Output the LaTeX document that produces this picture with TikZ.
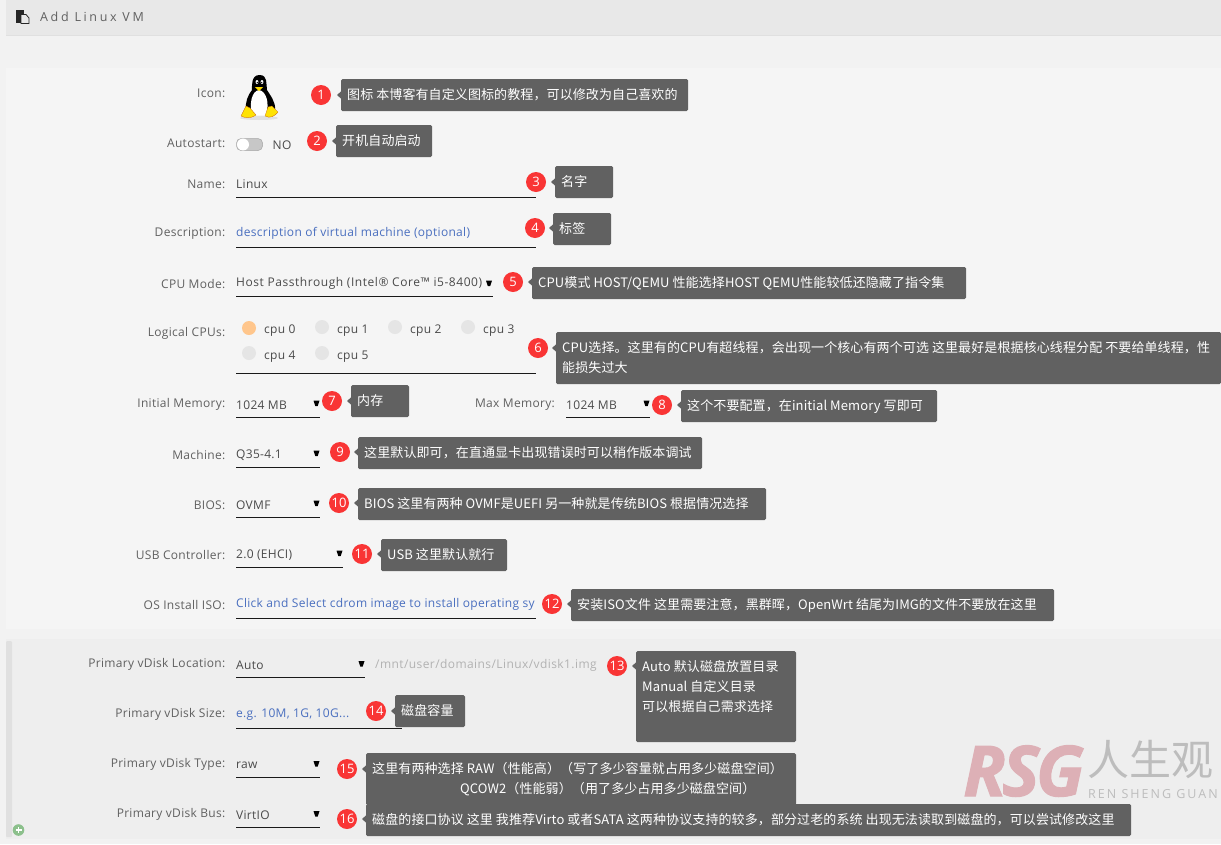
\documentclass[tikz,border=0pt]{standalone}
\usepackage{fontspec}
\setmainfont{Open Sans}
\newfontfamily\cjk{Noto Sans CJK SC}[LetterSpace=0.8]
\newfontfamily\uifont{Open Sans}[LetterSpace=2.5]
\usetikzlibrary{calc}
\definecolor{pagebg}{HTML}{F2F2F2}
\definecolor{headbg}{HTML}{E8E8E8}
\definecolor{panelA}{HTML}{F5F5F5}
\definecolor{panelB}{HTML}{EEEEEE}
\definecolor{barc}{HTML}{E0E0E0}
\definecolor{tipc}{HTML}{616161}
\definecolor{badgec}{HTML}{F93535}
\definecolor{labelc}{HTML}{606060}
\definecolor{valc}{HTML}{4A4A4A}
\definecolor{bluec}{HTML}{4A6FBF}
\definecolor{rsgc}{HTML}{DDB0B6}
\definecolor{wmc}{HTML}{BDBDBD}
\tikzset{
 x=1pt,y=-1pt,
 lab/.style={anchor=east,inner sep=0pt,yshift=-0.8pt,text=labelc,font=\uifont\fontsize{12}{14}\selectfont},
 val/.style={anchor=west,inner sep=0pt,yshift=-0.8pt,text=valc,font=\uifont\fontsize{12}{14}\selectfont},
 hint/.style={val,text=bluec},
 rule/.style={draw=black!90,line width=.9pt},
 badge/.style={circle,fill=badgec,text=white,inner sep=0pt,minimum size=20pt,font=\fontsize{13}{14}\selectfont},
 tiptext/.style={anchor=north west,inner sep=0pt,text=white,align=left,font=\cjk\fontsize{13}{20}\selectfont},
 tipbox/.style={fill=tipc,rounded corners=1.5pt},
 dot/.style={circle,fill=#1,inner sep=0pt,minimum size=14pt},
}
\newcommand{\arr}[2]{\fill[black] (#1-3,#2-2.5) -- (#1+3,#2-2.5) -- (#1+1.2,#2+3) -- (#1-1.2,#2+3) -- cycle;}
\newcommand{\fld}[3]{\draw[rule] (#1,#3) -- (#2,#3);}
\newcommand{\tipb}[9]{%
 \fill[tipc] (#5+.5,#4-4) -- (#5-4,#4) -- (#5+.5,#4+4) -- cycle;
 \fill[tipbox] (#5,#6) rectangle (#7,#8);
 \node[badge] (b#1) at (#3,#4) {#2};
 \node[tiptext] (t#1) at (#5+6,#6+9.5) {#9};
}
\begin{document}
\begin{tikzpicture}
\useasboundingbox (0,0) rectangle (1221,844);
\fill[pagebg] (0,0) rectangle (1221,844);
\fill[headbg] (6,0) rectangle (1221,36);
\draw[black!12] (6,35.5) -- (1221,35.5);
\fill[panelA] (6,68) rectangle (1221,629);
\fill[panelB] (6,639) rectangle (1221,839);
\fill[barc,rounded corners=1pt] (6,641) rectangle (12,837);
% header
\fill[black!85] (16,10) rectangle (24,23);
\draw[black!85,fill=headbg,line width=.8pt] (21,14.5) -- (26,14.5) -- (29,18) -- (29,23.5) -- (21,23.5) -- cycle;
\node[anchor=west,inner sep=0pt,text=labelc,font=\fontsize{12.5}{14}\selectfont] (title) at (40,17) {\addfontfeature{LetterSpace=21}Add Linux VM};
% labels
\node[lab] (l1) at (225.5,92.5) {Icon:};
\node[lab] (l2) at (225.5,142) {Autostart:};
\node[lab] (l3) at (225.5,183) {Name:};
\node[lab] (l4) at (225.5,233) {Description:};
\node[lab] (l5) at (225.5,283) {CPU Mode:};
\node[lab] (l6) at (225.5,333) {Logical CPUs:};
\node[lab] (l7) at (225.5,404) {Initial Memory:};
\node[lab] (l8) at (555,404) {Max Memory:};
\node[lab] (l9) at (225.5,454) {Machine:};
\node[lab] (l10) at (225.5,504) {BIOS:};
\node[lab] (l11) at (225.5,554) {USB Controller:};
\node[lab] (l12) at (225.5,604) {OS Install ISO:};
\node[lab] (l13) at (225.5,664) {Primary vDisk Location:};
\node[lab] (l14) at (225.5,714) {Primary vDisk Size:};
\node[lab] (l15) at (225.5,764) {Primary vDisk Type:};
\node[lab] (l16) at (225.5,814) {Primary vDisk Bus:};
% values
\node[val] (v3) at (236,183) {Linux};
\fld{236}{536}{197}
\node[hint] (v4) at (236,233) {description of virtual machine (optional)};
\fld{236}{536}{247}
\node[val] (v5) at (236,283) {\addfontfeature{LetterSpace=4.6}Host Passthrough (Intel® Core™ i5-8400)};
\arr{489}{283}
\fld{236}{493}{296.5}
\fld{236}{536}{373}
\node[dot=orange!45] (c0) at (249,328) {};
\node[val] (c0t) at (264,330) {cpu 0};
\node[dot=black!10] (c1) at (322,327) {};
\node[val] (c1t) at (337,330) {cpu 1};
\node[dot=black!10] (c2) at (395,327) {};
\node[val] (c2t) at (410,330) {cpu 2};
\node[dot=black!10] (c3) at (468,327) {};
\node[val] (c3t) at (483,330) {cpu 3};
\node[dot=black!10] (c4) at (249,353) {};
\node[val] (c4t) at (264,356) {cpu 4};
\node[dot=black!10] (c5) at (322,353) {};
\node[val] (c5t) at (337,356) {cpu 5};
\node[val] (v7) at (236,404) {1024 MB};
\arr{316.5}{403}
\fld{236}{320}{417}
\node[val] (v8) at (566,404) {1024 MB};
\arr{646.5}{403}
\fld{566}{650}{417}
\node[val] (v9) at (236,454) {Q35-4.1};
\arr{316.5}{453}
\fld{236}{320}{467}
\node[val] (v10) at (236,504) {OVMF};
\arr{316.5}{503}
\fld{236}{320}{517}
\node[val] (v11) at (236,554) {2.0 (EHCI)};
\arr{339.5}{553}
\fld{236}{343}{567}
\node[hint] (v12) at (236,604) {Click and Select cdrom image to install operating sy};
\fld{236}{536}{618.5}
\node[val] (v13) at (236,664) {Auto};
\arr{361.5}{663.5}
\fld{236}{365}{677.5}
\node[val,text=black!30] (v13b) at (375,664.5) {\addfontfeature{LetterSpace=3.5}/mnt/user/domains/Linux/vdisk1.img};
\node[hint] (v14) at (236,714) {e.g. 10M, 1G, 10G...};
\fld{236}{402}{728.5}
\node[val] (v15) at (236,764) {raw};
\arr{316.5}{763.5}
\fld{236}{320}{777}
\node[val] (v16) at (236,814) {VirtIO};
\arr{316.5}{813.5}
\fld{236}{320}{827.5}
% autostart toggle
\draw[black!35,fill=black!22,rounded corners=4.5pt,line width=.5pt] (236.5,138.5) rectangle (262.5,150.5);
\fill[white] (243,144.5) circle (6);
\node[val] (v2) at (272.5,144.5) {NO};
% plus icon
\fill[green!45!black!45] (18.5,830) circle (5.8);
\draw[white,line width=1.5pt] (15.5,830) -- (21.5,830) (18.5,827) -- (18.5,833);
% penguin
\fill[black!12] (259,118) ellipse (19 and 2);
\fill[black] (259.5,75) .. controls (251,75) and (252,86) .. (252,90) .. controls (248,95) and (245,102) .. (246,110) -- (275,110) .. controls (276,102) and (270,95) .. (267,90) .. controls (266,84) and (268,75) .. (259.5,75) -- cycle;
\fill[white] (259,90) .. controls (252,91) and (249,103) .. (252,115) -- (266,115) .. controls (270,103) and (266,91) .. (259,90) -- cycle;
\fill[white] (257,82) ellipse (1.4 and 2) (262,82) ellipse (1.4 and 2);
\fill[black] (257.3,82.5) circle (.7) (261.7,82.5) circle (.7);
\fill[yellow!80!orange] (255,87) -- (263,87) -- (259,91) -- cycle;
\fill[yellow!85!orange,draw=orange!80!black,line width=.3pt] (241,116) -- (246,106) -- (250,108) -- (256,115) .. controls (250,119) and (245,118) .. (241,116) -- cycle;
\fill[yellow!85!orange,draw=orange!80!black,line width=.3pt] (278,112) -- (272,106) -- (268,107) -- (265,116) .. controls (270,119) and (275,116) .. (278,112) -- cycle;
% watermark
\node[anchor=west,inner sep=0pt,text=rsgc,font=\bfseries\itshape\fontsize{70}{72}\selectfont] (rsg) at (963,771) {\addfontfeature{LetterSpace=-5,FakeBold=1.5}RSG};
\node[anchor=west,inner sep=0pt,text=wmc,font=\cjk\fontsize{42}{42}\selectfont] (rsg2) at (1087,760) {人生观};
\node[anchor=west,inner sep=0pt,text=wmc,font=\fontsize{12.5}{14}\selectfont] (rsg3) at (1088,794) {\addfontfeature{LetterSpace=16}REN SHENG GUAN};
% tips
\tipb{1}{1}{321}{95}{341}{79}{688}{111}{图标 本博客有自定义图标的教程，可以修改为自己喜欢的}
\tipb{2}{2}{317}{141}{336}{125}{432}{157}{开机自动启动}
\tipb{3}{3}{536}{182}{555}{166}{613}{198}{名字}
\tipb{4}{4}{535}{228}{553}{213}{611}{245}{标签}
\tipb{5}{5}{513}{282}{532}{267}{966}{299}{CPU模式 HOST/QEMU 性能选择HOST QEMU性能较低还隐藏了指令集}
\tipb{6}{6}{538}{348}{556}{332}{1221}{384}{CPU选择。这里有的CPU有超线程，会出现一个核心有两个可选 这里最好是根据核心线程分配 不要给单线程，性\\能损失过大}
\tipb{7}{7}{332}{401}{351}{385}{409}{417}{内存}
\tipb{8}{8}{662}{405}{681}{390}{937}{422}{这个不要配置，在initial Memory 写即可}
\tipb{9}{9}{340}{452}{358}{437}{702}{469}{这里默认即可，在直通显卡出现错误时可以稍作版本调试}
\tipb{10}{10}{339}{503}{358}{488}{766}{520}{BIOS 这里有两种 OVMF是UEFI 另一种就是传统BIOS 根据情况选择}
\tipb{11}{11}{362}{554}{381}{539}{507}{571}{USB 这里默认就行}
\tipb{12}{12}{552}{604}{571}{589}{1054}{621}{安装ISO文件 这里需要注意，黑群晖，OpenWrt 结尾为IMG的文件不要放在这里}
\tipb{13}{13}{617}{666}{636}{651}{796}{742}{Auto 默认磁盘放置目录\\Manual 自定义目录\\可以根据自己需求选择}
\tipb{14}{14}{376}{711}{395}{695}{465}{727}{磁盘容量}
\tipb{15}{15}{347}{769}{366}{753}{796}{805}{这里有两种选择 RAW（性能高）（写了多少容量就占用多少磁盘空间）\\\hspace*{88pt}QCOW2（性能弱）（用了多少占用多少磁盘空间）}
\tipb{16}{16}{347}{819}{366}{804}{1131}{836}{磁盘的接口协议 这里 我推荐Virto 或者SATA 这两种协议支持的较多，部分过老的系统 出现无法读取到磁盘的，可以尝试修改这里}
\end{tikzpicture}
\end{document}
